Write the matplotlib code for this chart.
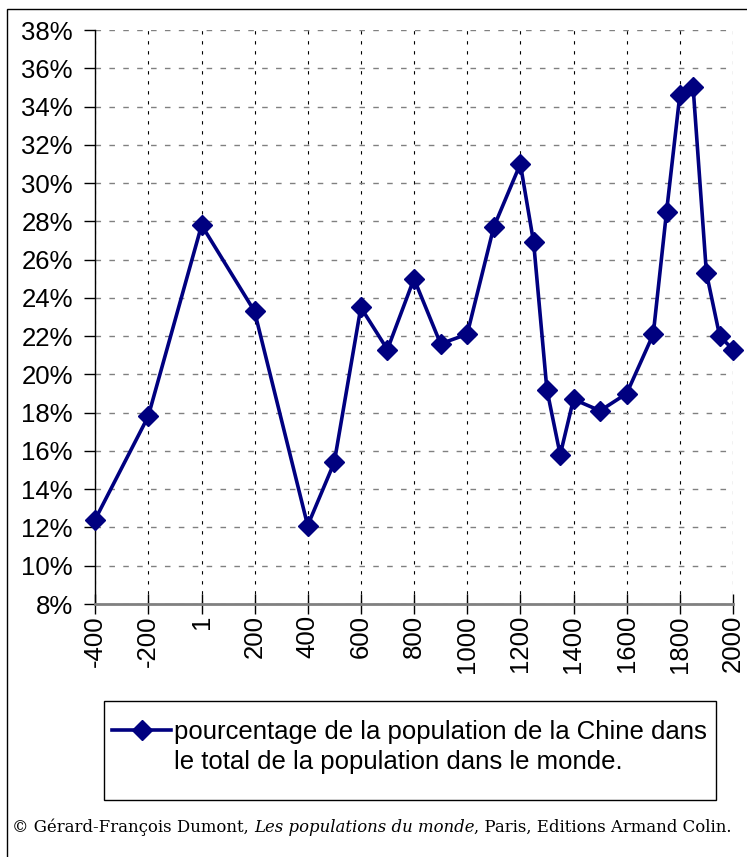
import matplotlib.pyplot as plt
from matplotlib.patches import Rectangle

# years and share of China in world population (%)
years = [-400, -200, 1, 200, 400, 500, 600, 700, 800, 900, 1000, 1100, 1200, 1250,
         1300, 1350, 1400, 1500, 1600, 1700, 1750, 1800, 1850, 1900, 1950, 2000]
share = [12.4, 17.8, 27.8, 23.3, 12.1, 15.4, 23.5, 21.3, 25.0, 21.6, 22.1, 27.7, 31.0, 26.9,
         19.2, 15.8, 18.7, 18.1, 19.0, 22.1, 28.5, 34.6, 35.0, 25.3, 22.0, 21.3]
x_ticks = [-400, -200, 1, 200, 400, 600, 800, 1000, 1200, 1400, 1600, 1800, 2000]
y_ticks = list(range(8, 39, 2))
label_lines = ['pourcentage de la population de la Chine dans',
               'le total de la population dans le monde.']
source = ['\u00a9 G\u00e9rard-Fran\u00e7ois Dumont, ', 'Les populations du monde',
          ', Paris, Editions Armand Colin.']

plt.rcParams['font.family'] = ['Liberation Sans', 'DejaVu Sans']
navy = '#000080'
W, H = 747, 857

fig = plt.figure(figsize=(W / 100, H / 100), dpi=100)
ax = fig.add_axes([95 / W, 1 - 604 / H, (733 - 95) / W, (604 - 30) / H])

ax.plot(years, share, color=navy, lw=2.6, marker='D', ms=10.5, mfc=navy, mec=navy,
        label=label_lines[0], clip_on=False, zorder=5)

ax.set_xlim(-400, 2000)
ax.set_ylim(8, 38)
ax.set_xticks(x_ticks)
ax.set_xticklabels([str(v) for v in x_ticks], rotation=90, fontsize=18.5)
ax.set_yticks(y_ticks)
ax.set_yticklabels(['%d%%' % v for v in y_ticks], fontsize=18.5)

# grid: grey dashes horizontally, black short dashes vertically
ax.yaxis.grid(True, color='#808080', lw=1, linestyle=(0, (4, 6)))
ax.xaxis.grid(True, color='black', lw=0.8, linestyle=(0, (3, 6)))
ax.set_axisbelow(True)

for s in ['top', 'right']:
    ax.spines[s].set_visible(False)
ax.spines['left'].set_color('black')
ax.spines['left'].set_linewidth(1)
ax.spines['bottom'].set_color('#808080')
ax.spines['bottom'].set_linewidth(2)
ax.tick_params(axis='x', direction='inout', length=14, width=1, color='black', pad=1)
ax.tick_params(axis='y', direction='out', length=8, width=1, color='black', pad=8)

# legend box drawn separately so its size matches the original
fig.patches.append(Rectangle((104 / W, 1 - 800 / H), (716 - 104) / W, 99 / H,
                             transform=fig.transFigure, fill=False, edgecolor='black', lw=1))
leg = fig.legend(loc='center left', bbox_to_anchor=(112 / W, 1 - 732 / H),
                 fontsize=18.5, frameon=False, borderpad=0, borderaxespad=0,
                 handlelength=2.3, handletextpad=0.12)
fig.canvas.draw()
r = fig.canvas.get_renderer()
x0 = leg.get_texts()[0].get_window_extent(r).x0
fig.text(x0 / W, 1 - 762 / H, label_lines[1], fontsize=18.5, va='center', ha='left')

# outer chart border (right and bottom edges fall outside the image)
fig.patches.append(Rectangle((7 / W, -0.05), 1.0, 1 - 9 / H + 0.05, transform=fig.transFigure,
                             fill=False, edgecolor='black', lw=1))

# source line: normal / italic / normal, fitted to the original width
fs = 13
texts = []
for i, s in enumerate(source):
    texts.append(fig.text(0, 0, s, fontsize=fs, family='DejaVu Serif',
                          style='italic' if i == 1 else 'normal', va='baseline'))
fig.canvas.draw()
total = sum(t.get_window_extent(r).width for t in texts)
fs = fs * (733 - 12) / total
x = 12
for t in texts:
    t.set_fontsize(fs)
    t.set_position((x / W, 1 - 832 / H))
    fig.canvas.draw()
    x += t.get_window_extent(r).width

fig.savefig('out.png', dpi=100)
